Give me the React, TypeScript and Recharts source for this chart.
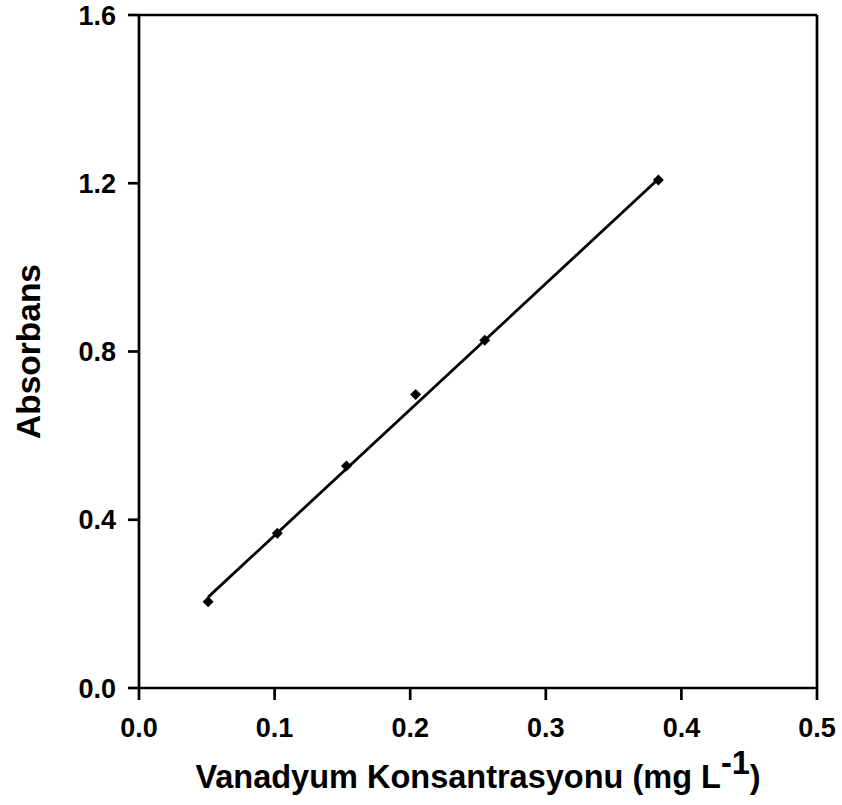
import {
  ReferenceLine,
  Scatter,
  ScatterChart,
  XAxis,
  YAxis,
} from 'recharts';

// Vanadium calibration standards (mg/L) and measured absorbance
const concentrations = [0.051, 0.102, 0.153, 0.204, 0.255, 0.383];
const absorbances = [0.205, 0.368, 0.528, 0.698, 0.827, 1.208];

// regression line end points
const fitX = [0.051, 0.383];
const fitY = [0.216, 1.21];

const xTicks = [0, 0.1, 0.2, 0.3, 0.4, 0.5];
const yTicks = [0, 0.4, 0.8, 1.2, 1.6];

const points = concentrations.map((x, i) => ({ x, y: absorbances[i] }));
const fitLine = fitX.map((x, i) => ({ x, y: fitY[i] }));

const FONT = '"Liberation Sans", Arial, sans-serif';
const AXIS_W = 2.7;

function XTick(props: any) {
  const { x, payload } = props;
  return (
    <text
      x={x}
      y={737}
      textAnchor="middle"
      fill="#000"
      style={{ fontSize: 27, fontWeight: 700, fontFamily: FONT }}
    >
      {Number(payload.value).toFixed(1)}
    </text>
  );
}

function YTick(props: any) {
  const { y, payload } = props;
  return (
    <text
      x={116}
      y={y + 9.5}
      textAnchor="end"
      fill="#000"
      style={{ fontSize: 27, fontWeight: 700, fontFamily: FONT }}
    >
      {Number(payload.value).toFixed(1)}
    </text>
  );
}

function Diamond(props: any) {
  const { cx, cy } = props;
  const r = 5.5;
  return (
    <polygon
      points={`${cx},${cy - r} ${cx + r},${cy} ${cx},${cy + r} ${cx - r},${cy}`}
      fill="#000"
    />
  );
}

function XTitle(props: any) {
  const { viewBox } = props;
  const cx = viewBox.x + viewBox.width / 2;
  return (
    <text
      x={cx}
      y={788}
      textAnchor="middle"
      fill="#000"
      style={{ fontSize: 32.5, fontWeight: 700, fontFamily: FONT }}
    >
      Vanadyum Konsantrasyonu (mg L
      <tspan dy={-14}>-1</tspan>
      <tspan dy={14}>)</tspan>
    </text>
  );
}

function YTitle(props: any) {
  const { viewBox } = props;
  const cy = viewBox.y + viewBox.height / 2;
  const x = 40;
  return (
    <text
      x={x}
      y={cy}
      transform={`rotate(-90, ${x}, ${cy})`}
      textAnchor="middle"
      fill="#000"
      style={{ fontSize: 33.5, fontWeight: 700, fontFamily: FONT }}
    >
      Absorbans
    </text>
  );
}

export default function App() {
  return (
    <div style={{ position: 'absolute', left: 0, top: 0, width: 842, height: 805, background: '#fff' }}>
      <ScatterChart width={842} height={805} margin={{ top: 15, right: 25, left: 0, bottom: 0 }}>
        <XAxis
          type="number"
          dataKey="x"
          domain={[0, 0.5]}
          ticks={xTicks}
          height={117}
          tickSize={12}
          tick={<XTick />}
          axisLine={{ stroke: '#000', strokeWidth: AXIS_W }}
          tickLine={{ stroke: '#000', strokeWidth: AXIS_W }}
          label={<XTitle />}
        />
        <YAxis
          type="number"
          dataKey="y"
          domain={[0, 1.6]}
          ticks={yTicks}
          width={139}
          tickSize={11}
          tick={<YTick />}
          axisLine={{ stroke: '#000', strokeWidth: AXIS_W }}
          tickLine={{ stroke: '#000', strokeWidth: AXIS_W }}
          label={<YTitle />}
        />
        <ReferenceLine y={1.6} stroke="#000" strokeWidth={AXIS_W} />
        <ReferenceLine x={0.5} stroke="#000" strokeWidth={AXIS_W} />
        <Scatter
          data={fitLine}
          line={{ stroke: '#000', strokeWidth: 2.8 }}
          shape={() => null}
          isAnimationActive={false}
        />
        <Scatter data={points} shape={<Diamond />} isAnimationActive={false} />
      </ScatterChart>
    </div>
  );
}
